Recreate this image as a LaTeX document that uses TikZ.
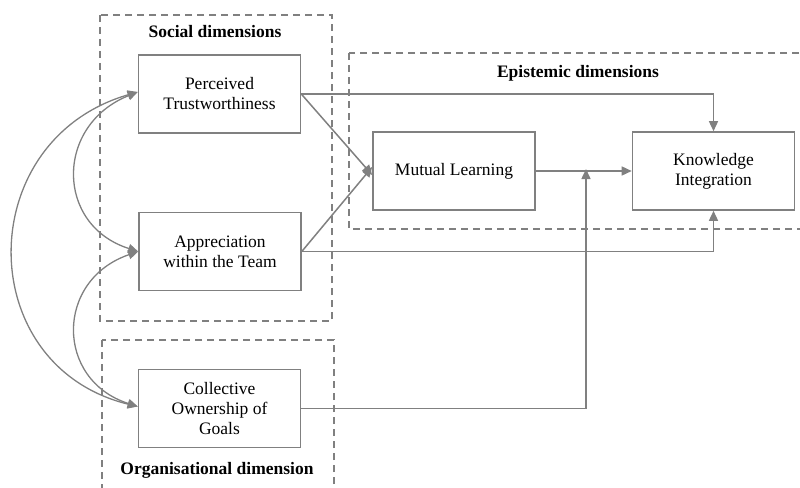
\documentclass[tikz,border=0pt]{standalone}
\usepackage{fontspec}
\setmainfont{Liberation Serif}
\usetikzlibrary{arrows.meta}
\definecolor{ln}{RGB}{128,128,128}
\begin{document}
\begin{tikzpicture}[x=1pt,y=-1pt,
  box/.style={draw=ln,line width=1.6pt,minimum width=162pt,minimum height=78pt,align=center,inner sep=2pt,
    font=\fontsize{17.5}{20}\selectfont},
  grp/.style={draw=ln,line width=1.4pt,dash pattern=on 7pt off 5pt},
  ttl/.style={font=\fontsize{17.5}{20}\selectfont\bfseries},
  con/.style={draw=ln,line width=1.5pt,-{Triangle[length=10pt,width=9pt]}},
  dcon/.style={draw=ln,line width=1.3pt,{Triangle[length=10pt,width=9pt]}-{Triangle[length=10pt,width=9pt]}}]
\useasboundingbox (0,0) rectangle (800,487);
\clip (0,0) rectangle (800,487);
% group boxes
\draw[grp] (100,15) rectangle (332,321);
\draw[grp] (349,53) rectangle (812,229);
\draw[grp] (102,340) rectangle (334,500);
\node[ttl] (tsoc) at (215,32) {Social dimensions};
\node[ttl] (tepi) at (578,73) {Epistemic dimensions};
\node[ttl] (torg) at (217,470) {Organisational dimension};
% nodes
\node[box] (pt) at (219.5,94) {Perceived\\Trustworthiness};
\node[box] (aw) at (220,251.5) {Appreciation\\within the Team};
\node[box] (cog) at (219.5,408.5) {Collective\\Ownership of\\Goals};
\node[box] (ml) at (454,171) {Mutual Learning};
\node[box] (ki) at (713.5,171) {Knowledge\\Integration};
\coordinate (jn) at (586,171);
% connectors
\draw[con] (pt.east) -| (ki.north);
\draw[con] (aw.east) -| (ki.south);
\draw[con] (pt.east) -- ([yshift=-4pt]ml.west);
\draw[con] (aw.east) -- ([yshift=4pt]ml.west);
\draw[con] (ml.east) -- (ki.west);
\draw[con] (cog.east) -| ([yshift=2pt]jn);
% left curves
\draw[dcon] ([yshift=2pt]pt.west) .. controls (55,125) and (55,225) .. (aw.west);
\draw[dcon] (aw.west) .. controls (55,280) and (55,380) .. ([yshift=2pt]cog.west);
\draw[dcon] ([yshift=2pt]pt.west) .. controls (-28,140) and (-28,366) .. ([yshift=2pt]cog.west);
\end{tikzpicture}
\end{document}
